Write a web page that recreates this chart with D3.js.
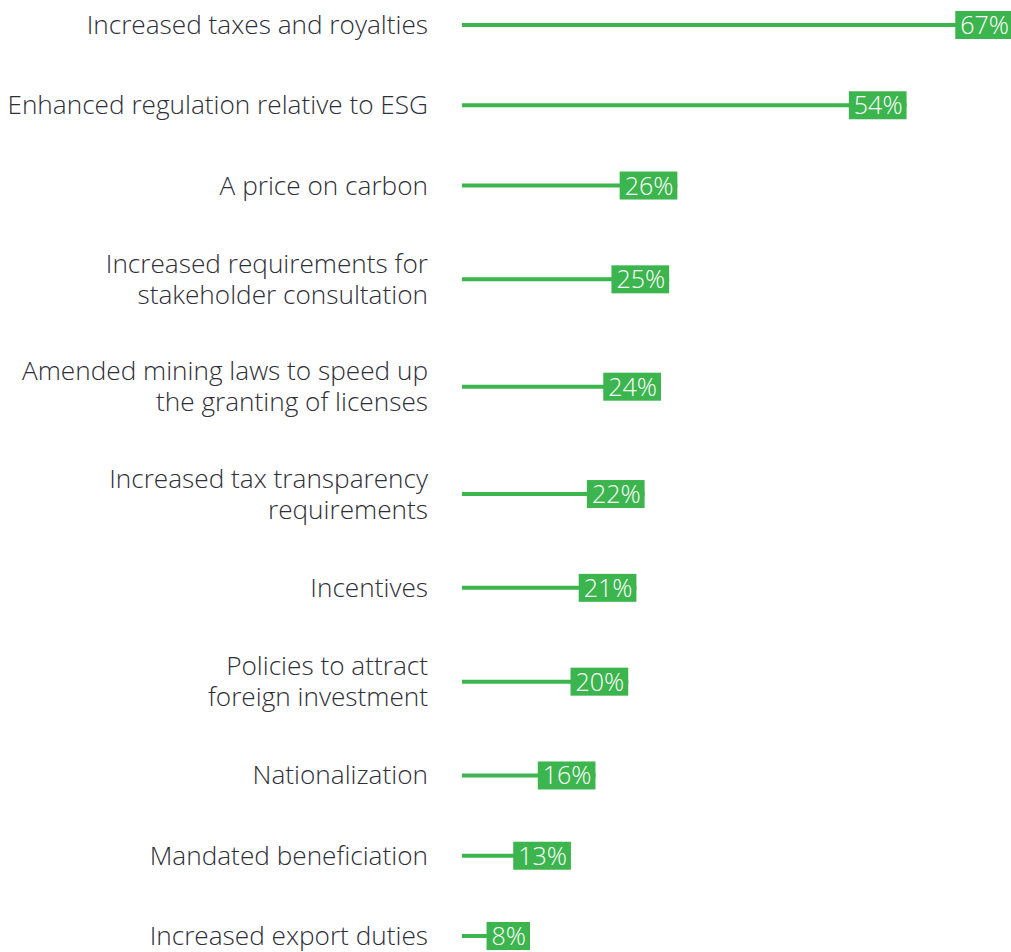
<!DOCTYPE html>
<html><head><meta charset="utf-8">
<script src="https://cdn.jsdelivr.net/npm/d3@7"></script>
<style>body{margin:0;background:#fff;}svg{display:block;}</style>
</head><body>
<svg id="c" width="1011" height="952"></svg>
<script>
const categories = [
  ["Increased taxes and royalties"],
  ["Enhanced regulation relative to ESG"],
  ["A price on carbon"],
  ["Increased requirements for", "stakeholder consultation"],
  ["Amended mining laws to speed up", "the granting of licenses"],
  ["Increased tax transparency", "requirements"],
  ["Incentives"],
  ["Policies to attract", "foreign investment"],
  ["Nationalization"],
  ["Mandated beneficiation"],
  ["Increased export duties"]
];
const values = [67, 54, 26, 25, 24, 22, 21, 20, 16, 13, 8];
const valueLabels = values.map(v => v + "%");

const svg = d3.select("#c");
const green = "#3cb54e";
const font = "'Open Sans', 'Noto Sans', sans-serif";

// vertical layout: row heights depend on number of label lines
const rowH = categories.map(c => c.length > 1 ? 107 : 80);
const cum = [];
let acc = 0;
rowH.forEach((h, i) => { if (i > 0) acc += (rowH[i-1] + h) / 2; cum.push(acc); });
const y = d3.scaleLinear().domain([0, acc]).range([25, 936]);

const x = d3.scaleLinear().domain([0, 67]).range([464.5, 1013]);

const g = svg.append("g");
const rows = g.selectAll("g.row").data(values).join("g").attr("class", "row")
  .attr("transform", (d, i) => `translate(0,${y(cum[i])})`);

rows.append("line")
  .attr("x1", x(0) - 2.5).attr("x2", d => x(d))
  .attr("y1", 0).attr("y2", 0)
  .attr("stroke", green).attr("stroke-width", 4);

rows.each(function(d, i) {
  const r = d3.select(this);
  const lines = categories[i];
  const lh = 31;
  const t = r.append("text").attr("text-anchor", "end")
    .attr("font-family", font).attr("font-weight", 350)
    .attr("font-size", 26.2).attr("fill", "#2e2e38");
  lines.forEach((s, k) => {
    t.append("tspan").attr("x", 428)
      .attr("y", (k - (lines.length - 1) / 2) * lh + 9).text(s);
  });
  const vt = r.append("text").attr("text-anchor", "end")
    .attr("x", x(d) - 4).attr("y", 9)
    .attr("font-family", font).attr("font-weight", 300)
    .attr("font-size", 25).attr("fill", "#fff")
    .text(valueLabels[i]);
  const w = vt.node().getComputedTextLength();
  r.insert("rect", "text:last-of-type")
    .attr("x", x(d) - w - 9).attr("y", -14).attr("width", w + 9).attr("height", 28)
    .attr("fill", green);
});
</script>
</body></html>
